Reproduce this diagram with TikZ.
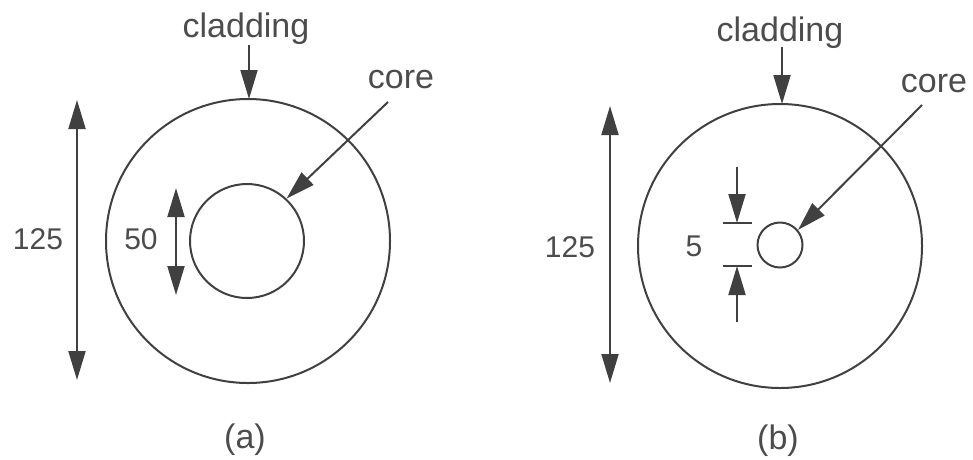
\documentclass[tikz,border=0pt]{standalone}
\usepackage{fontspec}
\setmainfont{Liberation Sans}
\usetikzlibrary{arrows.meta}
\definecolor{ink}{gray}{0.25}
\definecolor{txt}{gray}{0.3}
\tikzset{
  ring/.style={circle, draw=ink, line width=2pt, inner sep=0pt},
  ptr/.style={draw=ink, line width=2pt, -{Triangle[length=29pt,width=17pt]}},
  dimarrow/.style={draw=ink, line width=2pt, {Triangle[length=29pt,width=17pt]}-{Triangle[length=29pt,width=17pt]}},
  tick/.style={draw=ink, line width=2pt},
  word/.style={text=txt, font=\fontsize{34}{40}\selectfont, anchor=base, inner sep=0pt},
  num/.style={text=txt, font=\fontsize{30}{36}\selectfont, anchor=base, inner sep=0pt}
}
\begin{document}
\begin{tikzpicture}[x=1pt,y=-1pt]
\useasboundingbox (0,0) rectangle (973,459);
% ---------- (a) ----------
\node[ring, minimum size=284pt] (outerA) at (248,241) {};
\node[ring, minimum size=114pt] (innerA) at (247,241) {};
\node[word] (cladA) at (246,37) {cladding};
\node[word] (coreA) at (401,88) {core};
\node[num] (dA) at (38,249) {125};
\node[num] (dcA) at (141,249) {50};
\node[word] (capA) at (245,448) {(a)};
\coordinate (cladAs) at (249,45);
\coordinate (cladAe) at (249,99);
\coordinate (coreAs) at (388,102);
\coordinate (dAt) at (77,100);
\coordinate (dAb) at (77,380);
\coordinate (dcAt) at (176,188);
\coordinate (dcAb) at (176,295);
\draw[ptr] (cladAs) -- (cladAe);
\draw[ptr] (coreAs) -- (innerA.47);
\draw[dimarrow] (dAt) -- (dAb);
\draw[dimarrow] (dcAt) -- (dcAb);
% ---------- (b) ----------
\node[ring, minimum size=284pt] (outerB) at (780,246) {};
\node[ring, minimum size=45pt] (innerB) at (780,245) {};
\node[word] (cladB) at (780,41) {cladding};
\node[word] (coreB) at (934,92) {core};
\node[num] (dB) at (570,257) {125};
\node[num] (dcB) at (694,256) {5};
\node[word] (capB) at (778,449) {(b)};
\coordinate (cladBs) at (782,47);
\coordinate (cladBe) at (782,104);
\coordinate (coreBs) at (922,105);
\coordinate (dBt) at (610,106);
\coordinate (dBb) at (610,383);
\coordinate (t1l) at (723,223);
\coordinate (t1r) at (752,223);
\coordinate (t2l) at (723,266);
\coordinate (t2r) at (752,266);
\coordinate (a1s) at (737,167);
\coordinate (a1e) at (737,223);
\coordinate (a2s) at (737,322);
\coordinate (a2e) at (737,266);
\draw[ptr] (cladBs) -- (cladBe);
\draw[ptr] (coreBs) -- (innerB.40);
\draw[dimarrow] (dBt) -- (dBb);
\draw[tick] (t1l) -- (t1r);
\draw[tick] (t2l) -- (t2r);
\draw[ptr] (a1s) -- (a1e);
\draw[ptr] (a2s) -- (a2e);
\end{tikzpicture}
\end{document}
